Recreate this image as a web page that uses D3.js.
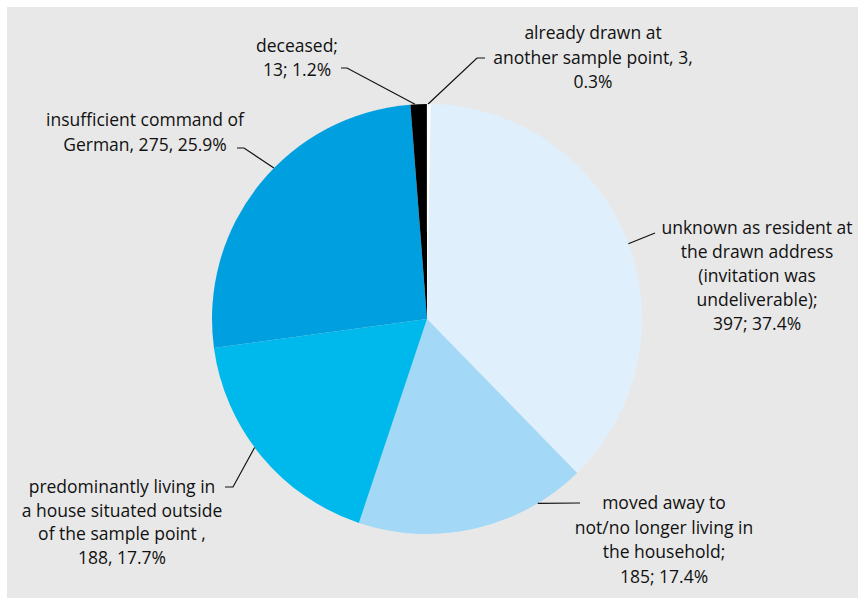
<!DOCTYPE html>
<html>
<head>
<meta charset="utf-8">
<script src="https://cdn.jsdelivr.net/npm/d3@7"></script>
<style>
  body { margin: 0; background: #fff; }
  svg text { font-family: "Open Sans", "Noto Sans", sans-serif; font-size: 17.5px; fill: #111; }
</style>
</head>
<body>
<div id="chart"></div>
<script>
// categories in drawing order (clockwise from 12 o'clock)
const categories = ['unknown', 'moved', 'predominantly', 'insufficient', 'deceased', 'alreadyDrawn'];
const counts = [397, 185, 188, 275, 13, 3];
const colours = ['#dff0fc', '#a3d8f6', '#00b9ec', '#009fe0', '#000000', '#ffffff'];

// label lines for each slice
const labelLines = [
    ['unknown as resident at', 'the drawn address', '(invitation was', 'undeliverable);', '397; 37.4%'],
    ['moved away to', 'not/no longer living in', 'the household;', '185; 17.4%'],
    ['predominantly living in', 'a house situated outside', 'of the sample point ,', '188, 17.7%'],
    ['insufficient command of', 'German, 275, 25.9%'],
    ['deceased;', '13; 1.2%'],
    ['already drawn at', 'another sample point, 3,', '0.3%']
];

const width = 858, height = 598;
const cx = 427, cy = 319, radius = 215;
const startOffset = 1 * Math.PI / 180;

// label layout: text centre x, first line y, line height,
// angle on the rim (deg) where the leader starts, leader elbow points
const layout = [
    {x: 757, y: 234, lh: 24, rim: 69.5, path: [[655, 233]]},
    {x: 664, y: 509, lh: 24.5, rim: 149, path: [[580, 503]]},
    {x: 122, y: 493, lh: 23.5, rim: 233.3, path: [[233, 487], [225, 487]]},
    {x: 145, y: 126, lh: 25, rim: 314.6, path: [[244, 148], [237, 148]]},
    {x: 297, y: 52, lh: 24, rim: 356.8, path: [[347, 68], [341, 68]]},
    {x: 593, y: 39, lh: 24.5, rim: 0.3, path: [[477, 58], [485, 58]]}
];

const svg = d3.select('#chart').append('svg')
    .attr('width', width)
    .attr('height', height);

// grey panel
svg.append('rect')
    .attr('x', 7).attr('y', 7)
    .attr('width', width - 7).attr('height', height - 7)
    .attr('fill', '#e8e8e8');

const pie = d3.pie()
    .sort(null)
    .value(d => d)
    .startAngle(startOffset)
    .endAngle(2 * Math.PI + startOffset);

const arc = d3.arc()
    .innerRadius(0)
    .outerRadius(radius);

const arcs = pie(counts);

const g = svg.append('g')
    .attr('transform', `translate(${cx},${cy})`);

g.selectAll('.slice')
    .data(arcs)
    .join('path')
    .attr('class', 'slice')
    .attr('d', arc)
    .attr('fill', (d, i) => colours[i]);

// leader lines
const rimPoint = deg => {
    const a = deg * Math.PI / 180;
    return [cx + radius * Math.sin(a), cy - radius * Math.cos(a)];
};

svg.selectAll('.leader')
    .data(layout)
    .join('path')
    .attr('class', 'leader')
    .attr('d', d => d3.line()([rimPoint(d.rim), ...d.path]))
    .attr('fill', 'none')
    .attr('stroke', '#111')
    .attr('stroke-width', 1.2);

// labels
const labels = svg.selectAll('.label')
    .data(categories)
    .join('text')
    .attr('class', 'label')
    .attr('text-anchor', 'middle');

labels.each(function(c, i) {
    const l = layout[i];
    d3.select(this).selectAll('tspan')
        .data(labelLines[i])
        .join('tspan')
        .attr('x', l.x)
        .attr('y', (t, j) => l.y + j * l.lh)
        .text(t => t);
});
</script>
</body>
</html>
